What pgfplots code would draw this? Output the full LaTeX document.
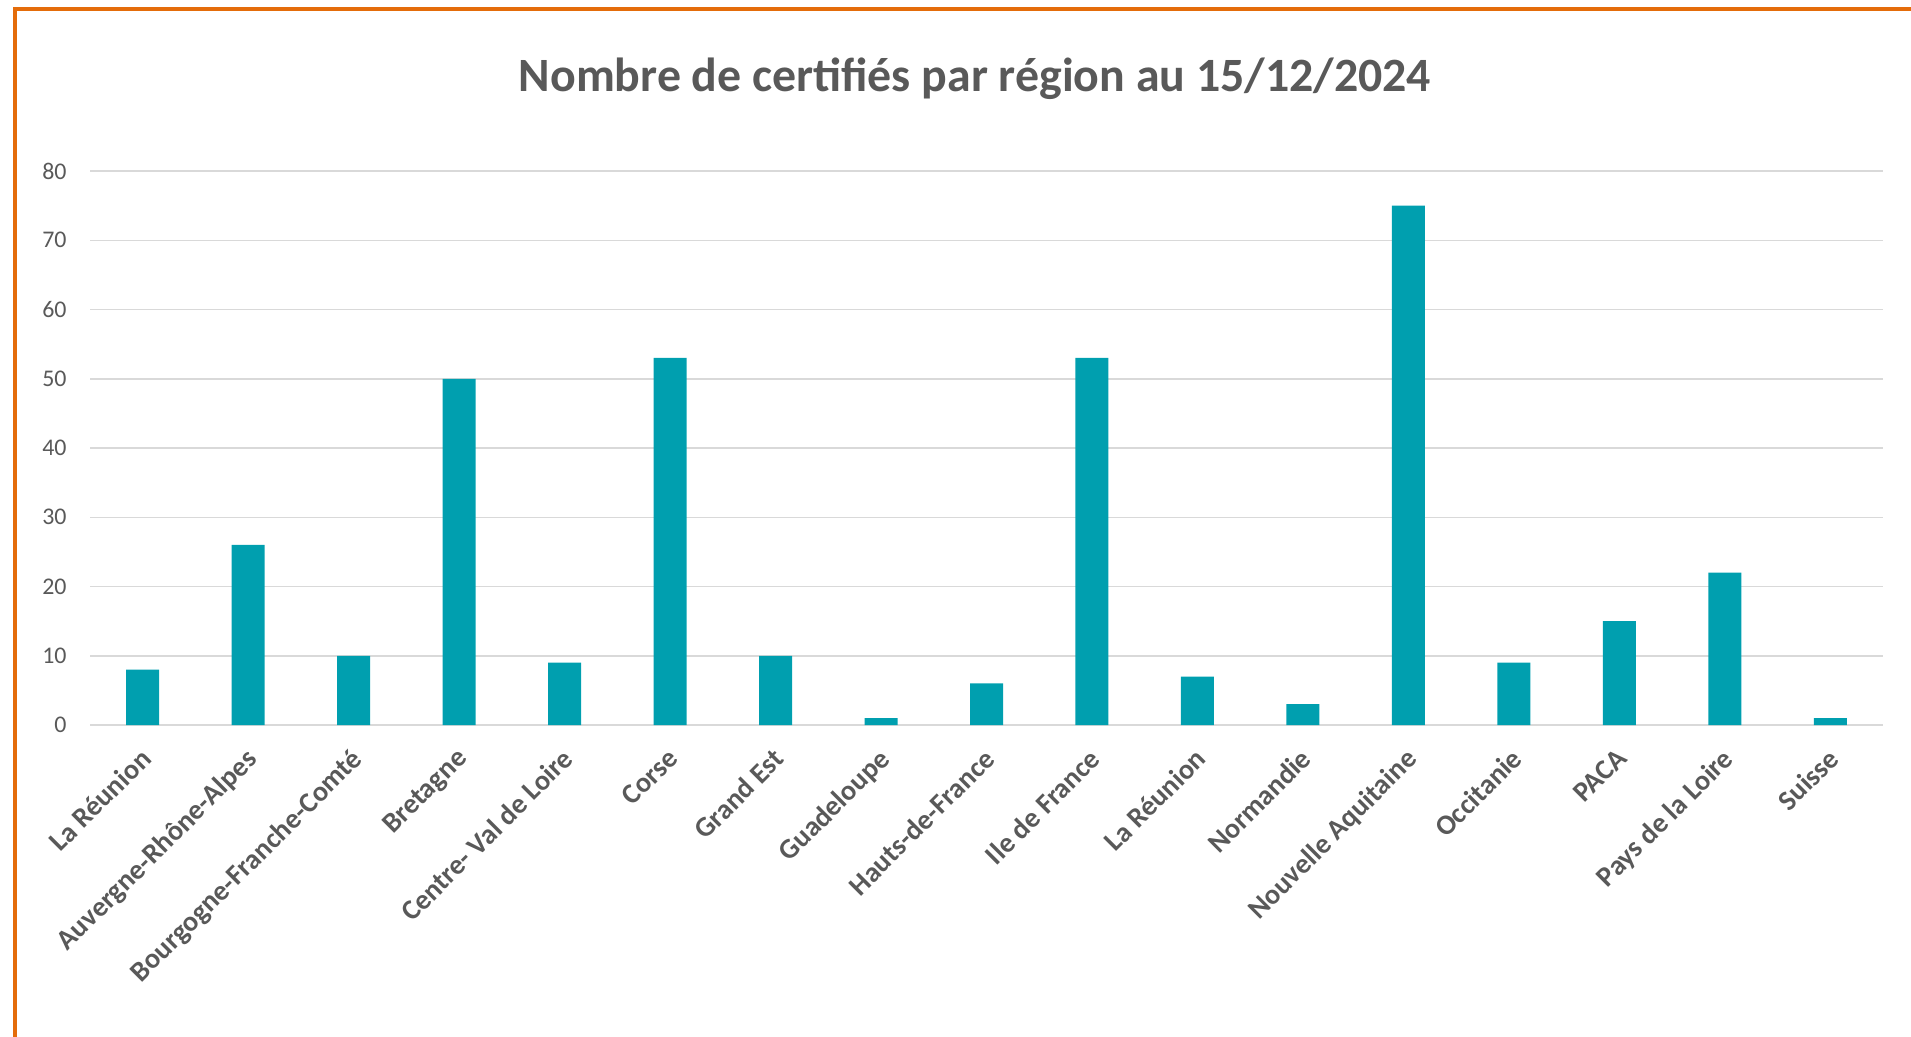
\documentclass[border=0pt]{standalone}
\usepackage{fontspec}
\setmainfont{Carlito}
\usepackage{pgfplots}
\pgfplotsset{compat=1.18}
\definecolor{bartc}{RGB}{0,159,175}
\definecolor{txtgrey}{RGB}{89,89,89}
\definecolor{gridgrey}{RGB}{217,217,217}
\definecolor{frameor}{RGB}{228,108,10}
\begin{document}
\begin{tikzpicture}
\path[use as bounding box] (-45bp,-156bp) rectangle (910.5bp,362.5bp);
\begin{axis}[
  at={(0,0)}, anchor=south west,
  scale only axis,
  width=896.5bp, height=277bp,
  xmin=-0.5, xmax=16.5, ymin=0, ymax=80,
  ytick={0,10,...,80},
  xtick={0,...,16},
  xticklabels={La Réunion, Auvergne-Rhône-Alpes, Bourgogne-Franche-Comté, Bretagne, Centre- Val de Loire, Corse, Grand Est, Guadeloupe, Hauts-de-France, Ile de France, La Réunion, Normandie, Nouvelle Aquitaine, Occitanie, PACA, Pays de la Loire, Suisse},
  axis line style={draw=none},
  tick style={draw=none},
  ymajorgrids,
  grid style={gridgrey, line width=0.75bp},
  /pgf/number format/assume math mode=true,
  yticklabel style={font=\fontsize{12}{14}\selectfont, text=txtgrey, anchor=east, inner sep=0pt, xshift=-11.5bp},
  xticklabel style={font=\bfseries\fontsize{14.2}{17}\selectfont, text=txtgrey, xshift=-2bp, yshift=-10.7bp, rotate=45, anchor=north east, inner sep=0pt},
  clip=false,
]
\addplot[ybar, bar width=16.5bp, fill=bartc, draw=none] coordinates {
(0,8) (1,26) (2,10) (3,50) (4,9) (5,53) (6,10) (7,1) (8,6) (9,53) (10,7) (11,3) (12,75) (13,9) (14,15) (15,22) (16,1)
};
\end{axis}
\node[anchor=base, text=txtgrey, font=\bfseries\fontsize{24}{28}\selectfont] at (442.5bp,316.7bp) {Nombre de certifiés par région au 15/12/2024};
\draw[frameor, line width=2bp] (-37.5bp,-156bp) -- (-37.5bp,358bp) -- (910.5bp,358bp);
\end{tikzpicture}
\end{document}
